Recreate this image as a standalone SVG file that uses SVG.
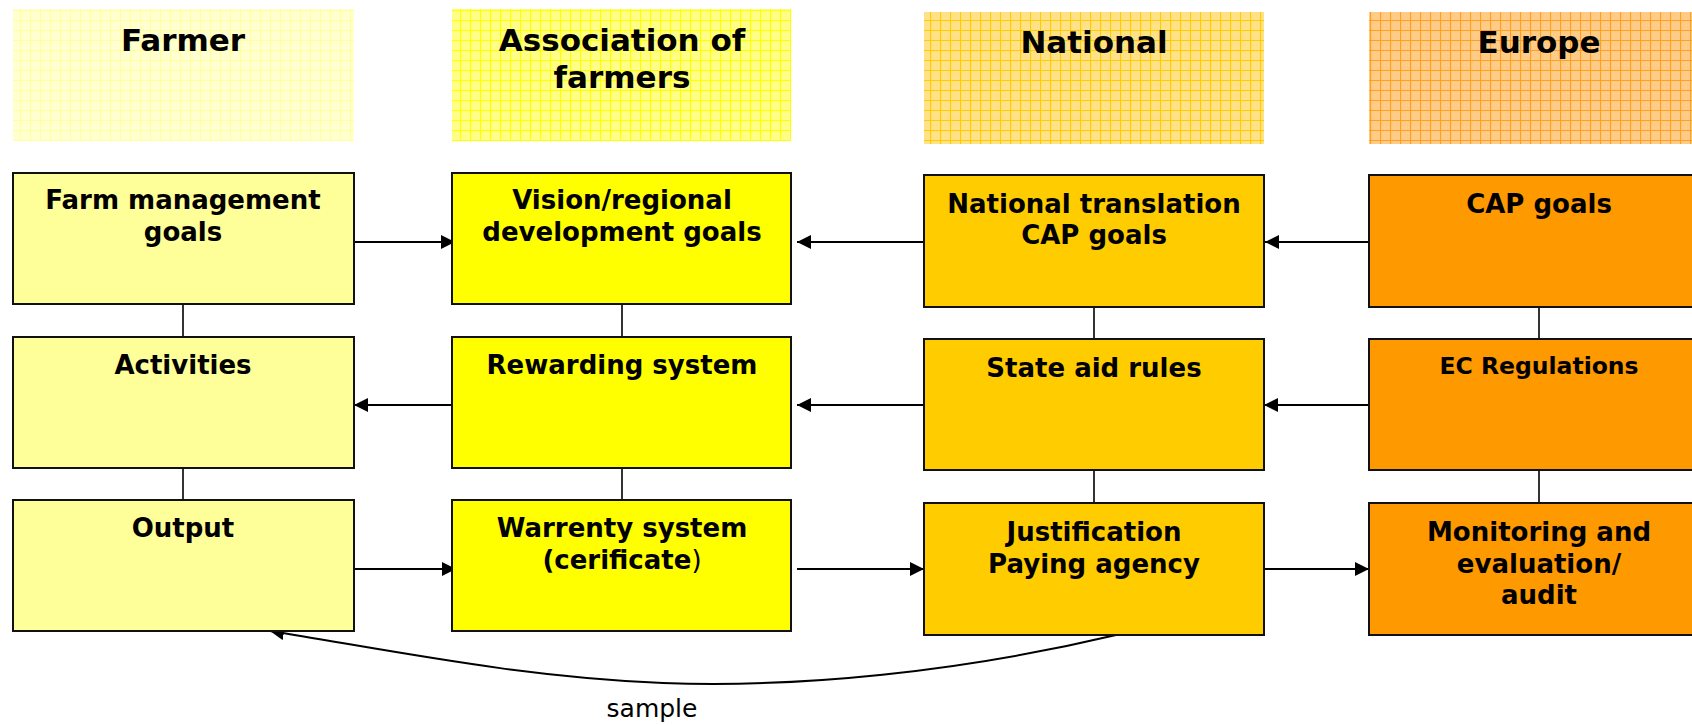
<svg xmlns="http://www.w3.org/2000/svg" width="1692" height="725" viewBox="0 0 1692 725">
<style>
.hdr{font-family:"DejaVu Sans",Verdana,sans-serif;font-weight:bold;font-size:31px;text-anchor:middle;fill:#000}
.lbl{font-family:"DejaVu Sans",Verdana,sans-serif;font-weight:bold;font-size:26px;text-anchor:middle;fill:#000}
.sm{font-size:23.5px}
.box{stroke:#111;stroke-width:2}
.c1{fill:#FFFF99}
.c2{fill:#FFFF00}
.c3{fill:#FFCC00}
.c4{fill:#FF9900}
.con{stroke:#000;stroke-width:2;fill:none}
.vl{stroke:#000;stroke-width:1.6;fill:none}
.note{font-family:"DejaVu Sans",Verdana,sans-serif;font-size:25px;text-anchor:middle;fill:#000}
</style>
<defs>
<marker id="ah" viewBox="0 0 14 14" refX="14" refY="7" markerWidth="14" markerHeight="14" markerUnits="userSpaceOnUse" orient="auto">
<path d="M0,0 L14,7 L0,14 Z" fill="#000"/>
</marker>
<pattern id="g1" width="10" height="10" patternUnits="userSpaceOnUse">
<rect width="10" height="10" fill="#FFFFD0"/>
<path d="M0,0.5 H10 M0.5,0 V10" stroke="#FFFFA0" stroke-width="1"/>
</pattern>
<pattern id="g2" width="10" height="10" patternUnits="userSpaceOnUse">
<rect width="10" height="10" fill="#FFFF88"/>
<path d="M0,0.5 H10 M0.5,0 V10" stroke="#FFFF00" stroke-width="1.2"/>
</pattern>
<pattern id="g3" width="10" height="10" patternUnits="userSpaceOnUse">
<rect width="10" height="10" fill="#FFE288"/>
<path d="M0,0.5 H10 M0.5,0 V10" stroke="#FFCC00" stroke-width="1.2"/>
</pattern>
<pattern id="g4" width="10" height="10" patternUnits="userSpaceOnUse">
<rect width="10" height="10" fill="#FFCC88"/>
<path d="M0,0.5 H10 M0.5,0 V10" stroke="#FFA020" stroke-width="1.2"/>
</pattern>
</defs>
<rect width="1692" height="725" fill="#fff"/>

<g id="hdr-farmer"><rect x="13" y="9" width="341" height="132" fill="url(#g1)"/><text class="hdr" x="183" y="51">Farmer</text></g>
<g id="hdr-association"><rect x="452" y="9" width="339" height="132" fill="url(#g2)"/><text class="hdr" x="622" y="51">Association of</text><text class="hdr" x="622" y="88">farmers</text></g>
<g id="hdr-national"><rect x="924" y="12" width="340" height="132" fill="url(#g3)"/><text class="hdr" x="1094" y="53">National</text></g>
<g id="hdr-europe"><rect x="1369" y="12" width="340" height="132" fill="url(#g4)"/><text class="hdr" x="1539" y="53">Europe</text></g>

<g id="connectors">
<line class="vl" x1="183" y1="304" x2="183" y2="337"/>
<line class="vl" x1="183" y1="468" x2="183" y2="500"/>
<line class="vl" x1="622" y1="304" x2="622" y2="337"/>
<line class="vl" x1="622" y1="468" x2="622" y2="500"/>
<line class="vl" x1="1094" y1="307" x2="1094" y2="339"/>
<line class="vl" x1="1094" y1="470" x2="1094" y2="503"/>
<line class="vl" x1="1539" y1="307" x2="1539" y2="339"/>
<line class="vl" x1="1539" y1="470" x2="1539" y2="503"/>
<line class="con" x1="354" y1="242" x2="455" y2="242" marker-end="url(#ah)"/>
<line class="con" x1="924" y1="242" x2="797" y2="242" marker-end="url(#ah)"/>
<line class="con" x1="1369" y1="242" x2="1265" y2="242" marker-end="url(#ah)"/>
<line class="con" x1="458" y1="405" x2="354" y2="405" marker-end="url(#ah)"/>
<line class="con" x1="924" y1="405" x2="797" y2="405" marker-end="url(#ah)"/>
<line class="con" x1="1369" y1="405" x2="1264" y2="405" marker-end="url(#ah)"/>
<line class="con" x1="354" y1="569" x2="456" y2="569" marker-end="url(#ah)"/>
<line class="con" x1="797" y1="569" x2="924" y2="569" marker-end="url(#ah)"/>
<line class="con" x1="1264" y1="569" x2="1369" y2="569" marker-end="url(#ah)"/>
<path class="con" d="M1116,635 C960,672 800,688 663,683 C520,677 400,652 270,631" marker-end="url(#ah)"/>
</g>

<g id="n-farm-goals"><rect class="box c1" x="13" y="173" width="341" height="131"/><text class="lbl" x="183" y="209">Farm management</text><text class="lbl" x="183" y="241">goals</text></g>
<g id="n-activities"><rect class="box c1" x="13" y="337" width="341" height="131"/><text class="lbl" x="183" y="374">Activities</text></g>
<g id="n-output"><rect class="box c1" x="13" y="500" width="341" height="131"/><text class="lbl" x="183" y="537">Output</text></g>

<g id="n-vision"><rect class="box c2" x="452" y="173" width="339" height="131"/><text class="lbl" x="622" y="209">Vision/regional</text><text class="lbl" x="622" y="241">development goals</text></g>
<g id="n-rewarding"><rect class="box c2" x="452" y="337" width="339" height="131"/><text class="lbl" x="622" y="374">Rewarding system</text></g>
<g id="n-warrenty"><rect class="box c2" x="452" y="500" width="339" height="131"/><text class="lbl" x="622" y="537">Warrenty system</text><text class="lbl" x="622" y="569">(cerificate<tspan font-weight="normal">)</tspan></text></g>

<g id="n-national-cap"><rect class="box c3" x="924" y="175" width="340" height="132"/><text class="lbl" x="1094" y="213">National translation</text><text class="lbl" x="1094" y="244">CAP goals</text></g>
<g id="n-state-aid"><rect class="box c3" x="924" y="339" width="340" height="131"/><text class="lbl" x="1094" y="377">State aid rules</text></g>
<g id="n-justification"><rect class="box c3" x="924" y="503" width="340" height="132"/><text class="lbl" x="1094" y="541">Justification</text><text class="lbl" x="1094" y="573">Paying agency</text></g>

<g id="n-cap-goals"><rect class="box c4" x="1369" y="175" width="340" height="132"/><text class="lbl" x="1539" y="213">CAP goals</text></g>
<g id="n-ec-regulations"><rect class="box c4" x="1369" y="339" width="340" height="131"/><text class="lbl sm" x="1539" y="374">EC Regulations</text></g>
<g id="n-monitoring"><rect class="box c4" x="1369" y="503" width="340" height="132"/><text class="lbl" x="1539" y="541">Monitoring and</text><text class="lbl" x="1539" y="573">evaluation/</text><text class="lbl" x="1539" y="604">audit</text></g>

<text class="note" x="652" y="717">sample</text>
</svg>
